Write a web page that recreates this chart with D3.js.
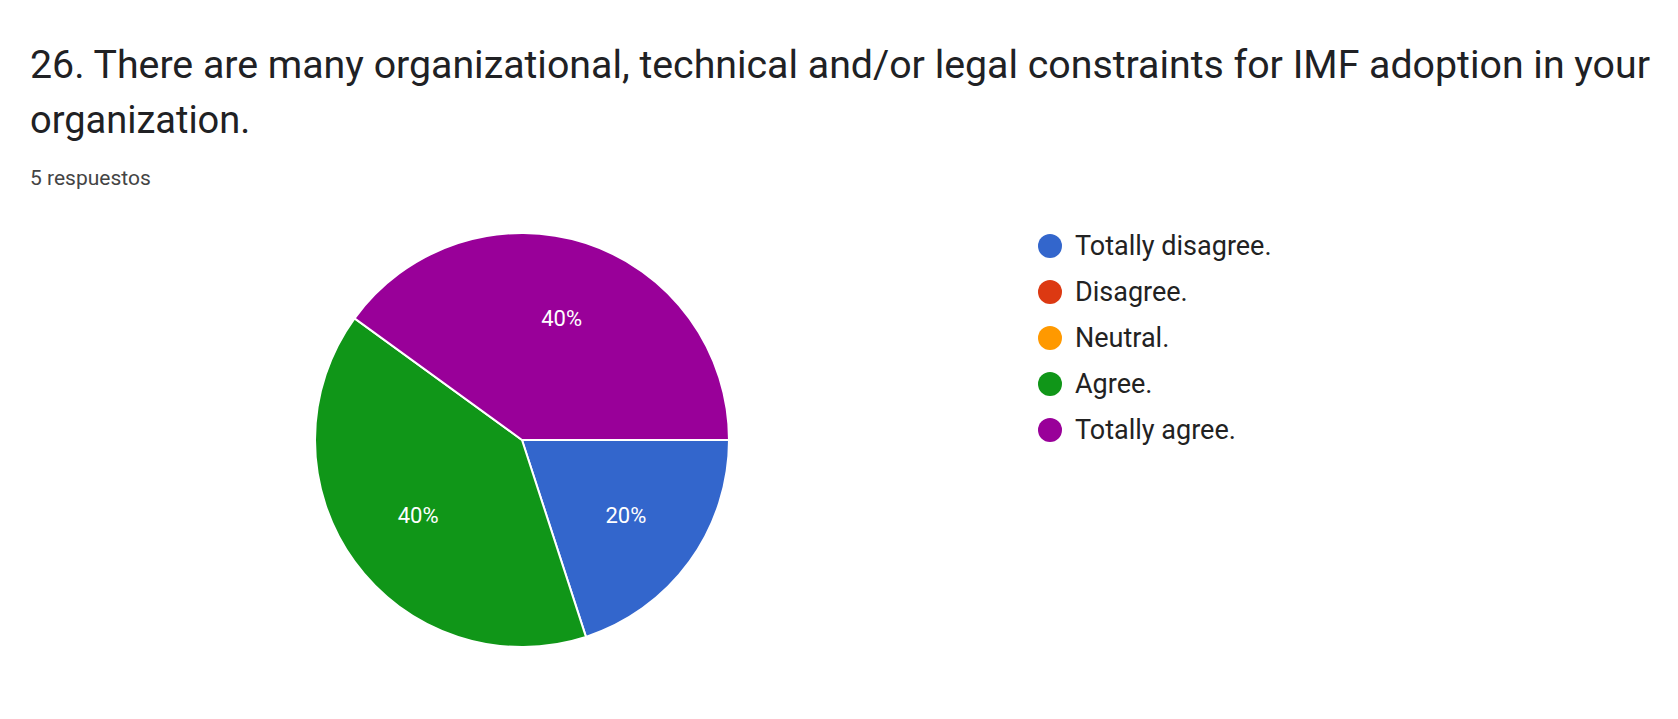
<!DOCTYPE html>
<html><head><meta charset="utf-8">
<script src="https://cdn.jsdelivr.net/npm/d3@7"></script>
<style>body{margin:0;background:#fff;font-family:Roboto,"Noto Sans",sans-serif}</style>
</head><body>
<svg id="chart" width="1678" height="719"></svg>
<script>
const categories = ["Totally disagree.", "Disagree.", "Neutral.", "Agree.", "Totally agree."];
const values = [1, 0, 0, 2, 2];
const colors = ["#3366cc", "#dc3912", "#ff9900", "#109618", "#990099"];

const svg = d3.select("#chart");

// Header
svg.append("text").attr("x", 30).attr("y", 78).attr("font-size", 38).attr("fill", "#202124")
  .attr("textLength", 1620).attr("lengthAdjust", "spacingAndGlyphs")
  .text("26. There are many organizational, technical and/or legal constraints for IMF adoption in your");
svg.append("text").attr("x", 30).attr("y", 133).attr("font-size", 38).attr("fill", "#202124")
  .text("organization.");
svg.append("text").attr("x", 30).attr("y", 185).attr("font-size", 21).attr("fill", "#444")
  .text("5 respuestos");

// Pie
const cx = 522, cy = 440, r = 207;
const total = d3.sum(values);
const pie = d3.pie().sort(null).value(d => d.v)
  .startAngle(Math.PI / 2).endAngle(Math.PI / 2 + 2 * Math.PI);
const arcs = pie(categories.map((c, i) => ({ c, v: values[i], color: colors[i] })));
const arc = d3.arc().innerRadius(0).outerRadius(r);
const labelArc = d3.arc().innerRadius(r * 0.62).outerRadius(r * 0.62);

const g = svg.append("g").attr("transform", `translate(${cx},${cy})`);
g.selectAll("path").data(arcs.filter(d => d.data.v > 0)).join("path")
  .attr("d", arc).attr("fill", d => d.data.color)
  .attr("stroke", "#fff").attr("stroke-width", 2);
g.selectAll("text").data(arcs.filter(d => d.data.v > 0)).join("text")
  .attr("transform", d => `translate(${labelArc.centroid(d)})`)
  .attr("text-anchor", "middle").attr("dy", "0.35em")
  .attr("font-size", 22).attr("fill", "#fff")
  .text(d => Math.round(d.data.v / total * 100) + "%");

// Legend
const legend = svg.append("g").attr("transform", "translate(1050,246)");
const row = legend.selectAll("g").data(categories).join("g")
  .attr("transform", (d, i) => `translate(0,${i * 46})`);
row.append("circle").attr("r", 12).attr("fill", (d, i) => colors[i]);
row.append("text").attr("x", 25).attr("dy", "0.35em").attr("font-size", 27).attr("fill", "#222")
  .text(d => d);
</script>
</body></html>
